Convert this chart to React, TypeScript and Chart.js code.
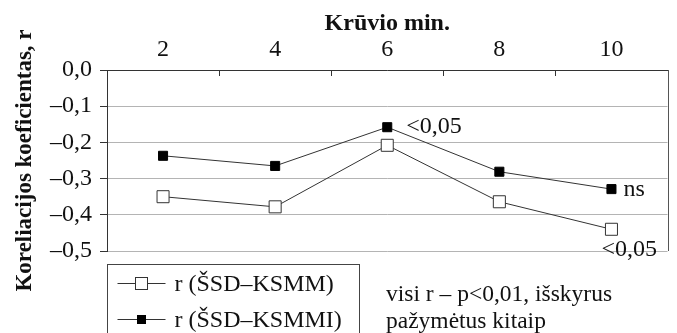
import { useEffect, useRef } from 'react';
import { Chart, registerables } from 'chart.js';
Chart.register(...registerables);

const categories = ['2', '4', '6', '8', '10'];
const seriesNames = ['r (ŠSD–KSMM)', 'r (ŠSD–KSMMI)'];
const ksmm = [-0.35, -0.378, -0.208, -0.364, -0.44];
const ksmmi = [-0.237, -0.265, -0.158, -0.281, -0.329];
const yMin = -0.5;
const yMax = 0;
const yStep = 0.1;
const xTitle = 'Krūvio min.';
const yTitle = 'Koreliacijos koeficientas, r';
const annSeries = [1, 1, 0];
const annIndex = [2, 4, 4];
const annText = ['<0,05', 'ns', '<0,05'];
const noteLines = ['visi r – p<0,01, išskyrus', 'pažymėtus kitaip'];

const SERIF = "'Liberation Serif', 'Times New Roman', serif";
const DARK = '#333333';

function fmt(v: number) {
  const s = Math.abs(v).toFixed(1).replace('.', ',');
  return v < -1e-9 ? '–' + s : s;
}

const extras = {
  id: 'extras',
  afterDraw(chart: any) {
    const ctx = chart.ctx;
    const ca = chart.chartArea;
    const xs = chart.scales.x;
    ctx.save();
    // right border
    ctx.strokeStyle = '#555';
    ctx.lineWidth = 1;
    ctx.beginPath();
    ctx.moveTo(Math.round(ca.right) + 0.5, ca.top);
    ctx.lineTo(Math.round(ca.right) + 0.5, ca.bottom);
    ctx.stroke();
    // inner ticks on top axis
    ctx.strokeStyle = DARK;
    for (let i = 0; i < categories.length - 1; i++) {
      const x = Math.round((xs.getPixelForValue(i) + xs.getPixelForValue(i + 1)) / 2) + 0.5;
      ctx.beginPath();
      ctx.moveTo(x, ca.top);
      ctx.lineTo(x, ca.top + 6);
      ctx.stroke();
    }
    // annotations
    ctx.fillStyle = '#111';
    ctx.font = `24px ${SERIF}`;
    ctx.textBaseline = 'middle';
    ctx.textAlign = 'left';
    for (let k = 0; k < annText.length; k++) {
      const meta = chart.getDatasetMeta(annSeries[k]);
      const pt = meta.data[annIndex[k]];
      if (annSeries[k] === 0) {
        ctx.fillText(annText[k], pt.x - 10, pt.y + 20);
      } else if (annIndex[k] === 2) {
        ctx.fillText(annText[k], pt.x + 19, pt.y);
      } else {
        ctx.fillText(annText[k], pt.x + 12, pt.y + 1);
      }
    }
    // legend box
    const lx = Math.round(ca.left) + 0.5;
    const ly = Math.round(ca.bottom) + 13.5;
    ctx.strokeStyle = '#444';
    ctx.strokeRect(lx, ly, 252, 90);
    const rows = [ly + 18, ly + 54];
    for (let s = 0; s < 2; s++) {
      const y = Math.round(rows[s]) + 0.5;
      const x0 = lx + 10;
      const x1 = lx + 58;
      const cx = (x0 + x1) / 2;
      ctx.strokeStyle = DARK;
      ctx.beginPath();
      ctx.moveTo(x0, y);
      ctx.lineTo(x1, y);
      ctx.stroke();
      if (s === 0) {
        ctx.fillStyle = '#fff';
        ctx.fillRect(cx - 6, y - 6, 12, 12);
        ctx.strokeRect(cx - 6, y - 6, 12, 12);
      } else {
        ctx.fillStyle = '#000';
        ctx.fillRect(cx - 4.5, y - 4.5, 9, 9);
      }
      ctx.fillStyle = '#111';
      ctx.fillText(seriesNames[s], lx + 67, rows[s] + 2);
    }
    // note
    ctx.font = `23.5px ${SERIF}`;
    ctx.fillText(noteLines[0], 386, 295);
    ctx.fillText(noteLines[1], 386, 322);
    ctx.restore();
  },
};

export default function App() {
  const ref = useRef<HTMLCanvasElement>(null);
  useEffect(() => {
    const yTickVals: number[] = [];
    for (let v = yMax; v >= yMin - 1e-9; v -= yStep) yTickVals.push(Math.round(v * 10) / 10);
    const chart = new Chart(ref.current!, {
      type: 'line',
      data: {
        labels: categories,
        datasets: [
          {
            label: seriesNames[0],
            data: ksmm,
            borderColor: DARK,
            borderWidth: 1,
            pointStyle: 'rect',
            pointRadius: 8.5,
            pointBackgroundColor: '#fff',
            pointBorderColor: DARK,
            pointBorderWidth: 1,
          },
          {
            label: seriesNames[1],
            data: ksmmi,
            borderColor: DARK,
            borderWidth: 1,
            pointStyle: 'rect',
            pointRadius: 6.4,
            pointBackgroundColor: '#000',
            pointBorderColor: '#000',
            pointBorderWidth: 1,
          },
        ],
      },
      options: {
        animation: false,
        responsive: false,
        devicePixelRatio: 1,
        layout: { padding: { left: 0, top: 0, right: 5, bottom: 82 } },
        plugins: { legend: { display: false }, tooltip: { enabled: false } },
        scales: {
          x: {
            position: 'top',
            offset: true,
            grid: { display: false, drawTicks: false },
            border: { display: true, color: DARK, width: 1 },
            ticks: { color: '#111', font: { family: SERIF, size: 24 }, padding: 6 },
            title: {
              display: true,
              text: xTitle,
              color: '#111',
              font: { family: SERIF, size: 24, weight: 'bold' },
              padding: { top: 9, bottom: 0 },
            },
            afterFit: (s: any) => { s.height = 70; },
          },
          y: {
            min: yMin,
            max: yMax,
            afterBuildTicks: (s: any) => { s.ticks = yTickVals.map((v) => ({ value: v })); },
            grid: { color: '#b4b4b4', tickLength: 7, tickColor: DARK, drawTicks: true },
            border: { display: true, color: DARK, width: 1 },
            ticks: {
              color: '#111',
              font: { family: SERIF, size: 24 },
              padding: 8,
              callback: (v: any) => fmt(Number(v)),
            },
            title: {
              display: true,
              text: yTitle,
              color: '#111',
              font: { family: SERIF, size: 23, weight: 'bold' },
              padding: { top: 11, bottom: 0 },
            },
            afterFit: (s: any) => { s.width = 107; },
          },
        },
      } as any,
      plugins: [extras],
    });
    return () => chart.destroy();
  }, []);
  return (
    <div style={{ position: 'fixed', left: 0, top: 0, width: 677, height: 333, background: '#fff' }}>
      <canvas ref={ref} width={677} height={333} style={{ width: 677, height: 333 }} />
    </div>
  );
}
